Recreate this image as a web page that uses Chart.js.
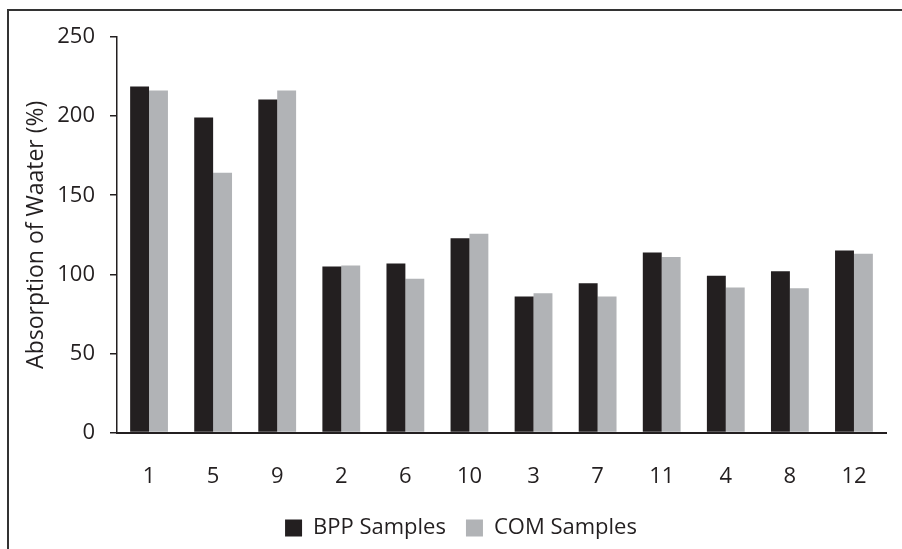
<!DOCTYPE html>
<html>
<head>
<meta charset="utf-8">
<script src="https://cdn.jsdelivr.net/npm/chart.js@4"></script>
<style>
  body { margin: 0; background: #fff; overflow: hidden; }
  #wrap { position: relative; width: 902px; height: 549px; }
  #frame { position: absolute; left: 7px; top: 9px; width: 1000px; height: 1000px; border: 2px solid #333; box-sizing: border-box; }
  canvas { position: absolute; left: 0; top: 0; }
</style>
</head>
<body>
<div id="wrap">
  <div id="frame"></div>
  <canvas id="bar-chart" width="902" height="549"></canvas>
</div>
<script>
// datos
var muestras = ["1", "5", "9", "2", "6", "10", "3", "7", "11", "4", "8", "12"];
var bpp = [218.7, 199.1, 210.5, 104.9, 106.8, 122.8, 86.0, 94.4, 113.8, 99.2, 102.0, 115.0];
var com = [216.2, 164.2, 216.2, 105.6, 97.3, 125.6, 88.1, 86.0, 111.0, 91.7, 91.2, 113.1];
var ticksY = [0, 50, 100, 150, 200, 250];

var tinta = "#231f20";
var fuente = "'Open Sans', sans-serif";

var grafico = new Chart(document.getElementById("bar-chart"), {
	type : 'bar',
	data : {
		labels : muestras,
		datasets : [ {
			label : "BPP Samples",
			data : bpp,
			backgroundColor : tinta,
			barPercentage : 1.0,
			categoryPercentage : 0.59
		}, {
			label : "COM Samples",
			data : com,
			backgroundColor : "#b1b3b6",
			barPercentage : 1.0,
			categoryPercentage : 0.59
		} ]
	},
	options : {
		responsive : false,
		animation : false,
		layout : {
			padding : { left : 36, top : 37, right : 16, bottom : 0 }
		},
		plugins : {
			legend : {
				position : 'bottom',
				labels : {
					boxWidth : 17,
					boxHeight : 17,
					padding : 20,
					color : tinta,
					font : { family : fuente, size : 22 }
				}
			},
			tooltip : { enabled : false }
		},
		scales : {
			x : {
				afterFit : function(s) { s.height -= 24; },
				grid : { display : false, drawTicks : false },
				border : { display : true, color : tinta, width : 2 },
				ticks : {
					color : tinta,
					padding : 31,
					font : { family : fuente, size : 22 }
				}
			},
			y : {
				min : 0,
				max : 250,
				afterFit : function(s) { s.width = 81; },
				afterBuildTicks : function(s) {
					s.ticks = ticksY.map(function(v) { return { value : v }; });
				},
				grid : {
					drawOnChartArea : false,
					drawTicks : true,
					tickLength : 7,
					color : tinta,
					lineWidth : 1.5
				},
				border : { display : true, color : tinta, width : 1.5 },
				ticks : {
					color : tinta,
					padding : 15,
					font : { family : fuente, size : 22 }
				},
				title : {
					display : true,
					text : 'Absorption of Waater (%)',
					color : tinta,
					padding : { top : -13, bottom : 0 },
					font : { family : fuente, size : 23 }
				}
			}
		}
	}
});
</script>
</body>
</html>
